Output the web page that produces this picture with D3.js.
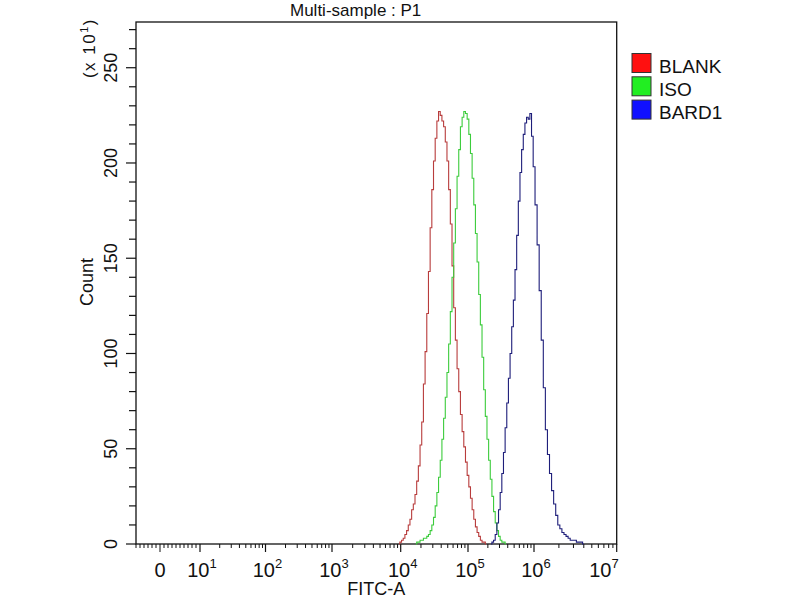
<!DOCTYPE html>
<html>
<head>
<meta charset="utf-8">
<script src="https://cdn.jsdelivr.net/npm/d3@7"></script>
<style>
  html, body { margin: 0; padding: 0; background: #ffffff; }
  svg { display: block; }
  text { font-family: "Liberation Sans", Arial, "DejaVu Sans", sans-serif; fill: #111; }
</style>
</head>
<body>
<svg id="chart" width="800" height="600"></svg>
<script>
// ---- data: histogram bins on log10(FITC-A); counts in units of x10^1 ----
const bins = [
  3.950,3.975,4.000,4.025,4.050,4.075,4.100,4.125,4.150,4.175,
  4.200,4.225,4.250,4.275,4.300,4.325,4.350,4.375,4.400,4.425,
  4.450,4.475,4.500,4.525,4.550,4.575,4.600,4.625,4.650,4.675,
  4.700,4.725,4.750,4.775,4.800,4.825,4.850,4.875,4.900,4.925,
  4.950,4.975,5.000,5.025,5.050,5.075,5.100,5.125,5.150,5.175,
  5.200,5.225,5.250,5.275,5.300,5.325,5.350,5.375,5.400,5.425,
  5.450,5.475,5.500,5.525,5.550,5.575,5.600,5.625,5.650,5.675,
  5.700,5.725,5.750,5.775,5.800,5.825,5.850,5.875,5.900,5.925,
  5.950,5.975,6.000,6.025,6.050,6.075,6.100,6.125,6.150,6.175,
  6.200,6.225,6.250,6.275,6.300,6.325,6.350,6.375,6.400,6.425,
  6.450,6.475,6.500,6.525,6.550,6.575,6.600,6.625,6.650];
const blankCounts = [
  0,0,1,2,3,5,7,10,13,18,
  21,26,33,41,52,64,84,101,121,143,
  166,186,201,213,222,227,225,222,219,211,
  201,186,168,146,124,107,92,80,68,59,
  51,43,36,30,24,18,13,9,6,4,
  2,1,1,0,0,0,0,0,0,0,
  0,0,0,0,0,0,0,0,0,0,
  0,0,0,0,0,0,0,0,0,0,
  0,0,0,0,0,0,0,0,0,0,
  0,0,0,0,0,0,0,0,0,0,
  0,0,0,0,0,0,0,0,0];
const isoCounts = [
  0,0,0,0,0,0,0,0,0,0,
  0,0,1,1,2,2,3,3,4,5,
  7,10,14,20,27,35,44,55,66,77,
  90,105,122,140,158,176,193,207,219,224,
  227,226,223,215,205,192,178,163,148,131,
  115,98,81,67,55,44,34,25,17,11,
  7,4,2,1,1,0,0,0,0,0,
  0,0,0,0,0,0,0,0,0,0,
  0,0,0,0,0,0,0,0,0,0,
  0,0,0,0,0,0,0,0,0,0,
  0,0,0,0,0,0,0,0,0];
const bard1Counts = [
  0,0,0,0,0,0,0,0,0,0,
  0,0,0,0,0,0,0,0,0,0,
  0,0,0,0,0,0,0,0,0,0,
  0,0,0,0,0,0,0,0,0,0,
  0,0,0,0,0,0,0,0,0,0,
  0,0,0,0,0,0,0,1,2,5,
  11,18,27,37,48,61,74,87,100,114,
  128,144,162,180,195,207,215,221,224,223,
  226,214,198,178,157,133,107,82,60,47,
  37,28,21,15,10,8,6,5,4,3,
  2,2,2,1,1,1,0,0,0];
const seriesNames  = ["BLANK", "ISO", "BARD1"];
const lineColors   = ["#b83c3c", "#3ccc3c", "#1e1e7a"];
const legendColors = ["#ff1010", "#22ee22", "#1010ff"];
const decades      = [1, 2, 3, 4, 5, 6, 7];
const yMajorTicks  = [0, 50, 100, 150, 200, 250];

(function () {
const svg = d3.select("#chart");
const pLeft = 136, pRight = 616.7, pTop = 22, pBottom = 544;

// x: piecewise scale in log10 space (decade positions as drawn by the instrument software)
const x = d3.scaleLinear().domain(decades).range([200, 265.5, 332, 400.7, 468, 534, 616.7]);
const xLin = d3.scaleLinear().domain([0, 10]).range([160, 200]); // linear region around 0
const y = d3.scaleLinear().domain([0, 274]).range([pBottom, pTop]);

// frame
svg.append("rect").attr("x", pLeft).attr("y", pTop)
  .attr("width", pRight - pLeft).attr("height", pBottom - pTop)
  .attr("fill", "none").attr("stroke", "#111").attr("stroke-width", 1.3);

// ---- x axis ticks ----
const gx = svg.append("g");
d3.range(-6, 10).forEach(v => {
  const px = xLin(v);
  gx.append("line").attr("x1", px).attr("x2", px).attr("y1", pBottom)
    .attr("y2", pBottom + (v === 0 ? 8 : 4)).attr("stroke", "#111").attr("stroke-width", 1);
});
decades.forEach(d => {
  const px = x(d);
  gx.append("line").attr("x1", px).attr("x2", px).attr("y1", pBottom).attr("y2", pBottom + 8)
    .attr("stroke", "#111").attr("stroke-width", 1.2);
  if (d < 7) {
    for (let m = 2; m <= 9; m++) {
      const mp = x(d + Math.log10(m));
      gx.append("line").attr("x1", mp).attr("x2", mp).attr("y1", pBottom).attr("y2", pBottom + 4)
        .attr("stroke", "#111").attr("stroke-width", 1);
    }
  }
});
gx.append("text").attr("x", xLin(0)).attr("y", 577).attr("text-anchor", "middle")
  .attr("font-size", 20).text("0");
decades.forEach(d => {
  const last = d === 7;
  const t = gx.append("text")
    .attr("x", x(d) + 2)
    .attr("y", 577)
    .attr("text-anchor", last ? "end" : "middle")
    .attr("font-size", 20);
  t.append("tspan").text("10");
  t.append("tspan").attr("font-size", 13).attr("dy", -9).text(String(d));
});
svg.append("text").attr("x", (pLeft + pRight) / 2).attr("y", 595).attr("text-anchor", "middle")
  .attr("font-size", 18).text("FITC-A");

// ---- y axis ticks ----
const gy = svg.append("g");
d3.range(0, 275, 10).forEach(v => {
  const major = v % 50 === 0;
  gy.append("line").attr("x1", pLeft - (major ? 10 : 7)).attr("x2", pLeft)
    .attr("y1", y(v)).attr("y2", y(v)).attr("stroke", "#111").attr("stroke-width", 1.2);
});
yMajorTicks.forEach(v => {
  gy.append("text").attr("transform", `translate(117,${y(v)}) rotate(-90)`)
    .attr("text-anchor", "middle").attr("font-size", 18).text(String(v));
});
svg.append("text").attr("transform", "translate(93,282) rotate(-90)")
  .attr("text-anchor", "middle").attr("font-size", 18).text("Count");
const mult = svg.append("text").attr("transform", "translate(95,48) rotate(-90)")
  .attr("text-anchor", "middle").attr("font-size", 17).attr("letter-spacing", 1.5);
mult.append("tspan").text("(x 10");
mult.append("tspan").attr("font-size", 11).attr("dy", -7).text("1");
mult.append("tspan").attr("dy", 7).text(")");

// title
svg.append("text").attr("x", 290).attr("y", 16).attr("font-size", 17).text("Multi-sample : P1");

// ---- histogram curves ----
const allCounts = [blankCounts, isoCounts, bard1Counts];
const line = d3.line().x(d => x(d[0])).y(d => y(d[1])).curve(d3.curveStep);
allCounts.forEach((counts, i) => {
  let first = counts.findIndex(c => c > 0);
  let last = counts.length - 1 - [...counts].reverse().findIndex(c => c > 0);
  first = Math.max(0, first - 1); last = Math.min(counts.length - 1, last + 1);
  const pts = [];
  for (let k = first; k <= last; k++) pts.push([bins[k], counts[k]]);
  svg.append("path").attr("d", line(pts)).attr("fill", "none")
    .attr("stroke", lineColors[i]).attr("stroke-width", 1.1);
});

// ---- legend ----
const lg = svg.append("g");
seriesNames.forEach((name, i) => {
  const yy = 53.5 + i * 23.3;
  lg.append("rect").attr("x", 632).attr("y", yy).attr("width", 19).attr("height", 19)
    .attr("fill", legendColors[i]).attr("stroke", "#333").attr("stroke-width", 1);
  lg.append("text").attr("x", 659).attr("y", yy + 19).attr("font-size", 19).text(name);
});
})();
</script>
</body>
</html>
